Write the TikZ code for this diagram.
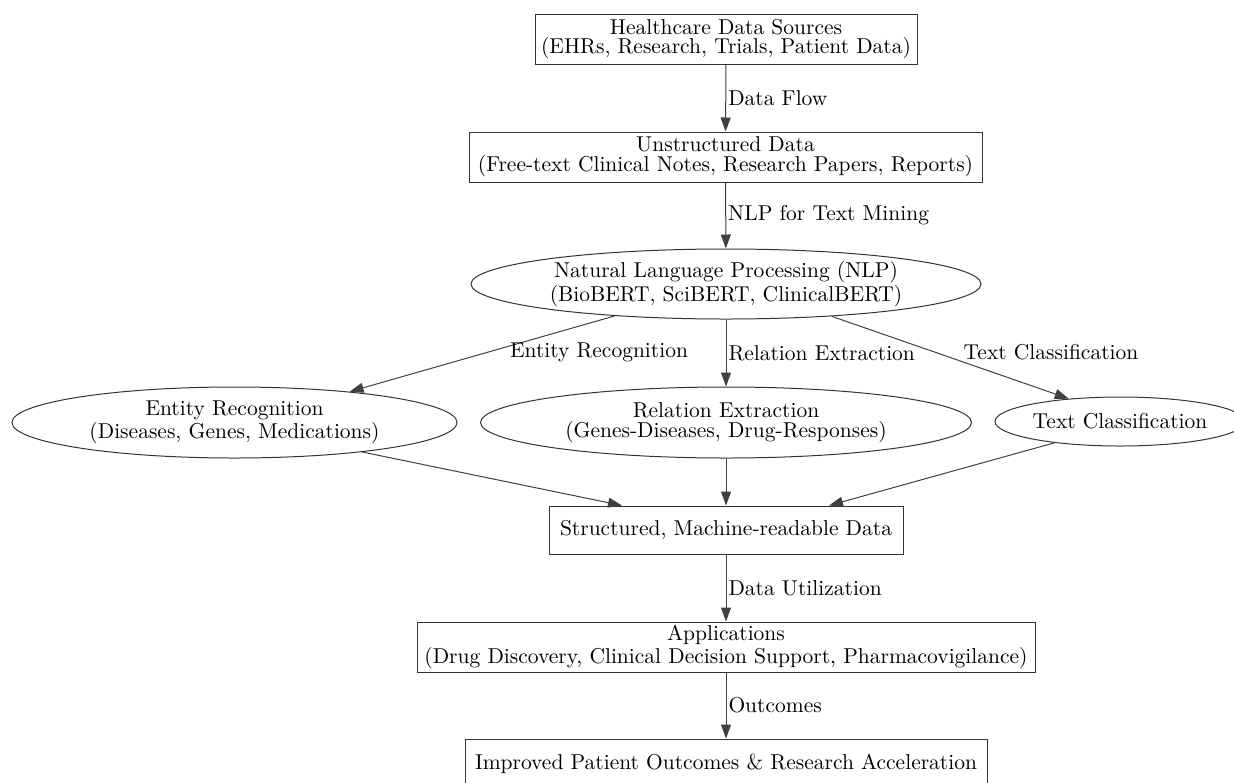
\documentclass[tikz,border=0pt]{standalone}
\usetikzlibrary{arrows.meta,shapes.geometric}
\begin{document}
\begin{tikzpicture}[x=0.5pt,y=-0.5pt,
  every node/.style={font=\fontsize{10.75}{9.8}\selectfont},
  boxnode/.style={draw=black!80,line width=0.5pt,rectangle,inner sep=0pt,align=center},
  ellnode/.style={draw=black!80,line width=0.5pt,ellipse,inner sep=0pt,align=center},
  conn/.style={draw=black!75,line width=0.5pt,-{Triangle[length=7pt,width=5pt]}},
  lbl/.style={inner sep=1pt,anchor=west}]
\useasboundingbox (0,0) rectangle (1234,782);
\node[boxnode,minimum width=191pt,minimum height=25pt] (src) at (726,39) {Healthcare Data Sources\\(EHRs, Research, Trials, Patient Data)};
\node[boxnode,minimum width=256.5pt,minimum height=25pt] (unst) at (725.5,157) {Unstructured Data\\(Free-text Clinical Notes, Research Papers, Reports)};
\node[ellnode,minimum width=255pt,minimum height=35pt] (nlp) at (726,284) {Natural Language Processing (NLP)\\(BioBERT, SciBERT, ClinicalBERT)};
\node[ellnode,minimum width=222.5pt,minimum height=35.5pt] (ent) at (234.5,422.5) {Entity Recognition\\(Diseases, Genes, Medications)};
\node[ellnode,minimum width=245.5pt,minimum height=35.5pt] (rel) at (726,422.5) {Relation Extraction\\(Genes-Diseases, Drug-Responses)};
\node[ellnode,minimum width=125pt,minimum height=24.5pt] (tc) at (1120,421.5) {Text Classification};
\node[boxnode,minimum width=177pt,minimum height=24pt] (str) at (726,530) {Structured, Machine-readable Data};
\node[boxnode,minimum width=309pt,minimum height=25pt] (app) at (726,647) {Applications\\(Drug Discovery, Clinical Decision Support, Pharmacovigilance)};
\node[boxnode,minimum width=261pt,minimum height=25pt] (imp) at (726,764) {Improved Patient Outcomes \& Research Acceleration};

\draw[conn] (src) -- node[lbl,midway] {Data Flow} (unst);
\draw[conn] (unst) -- node[lbl,midway] {NLP for Text Mining} (nlp);
\draw[conn] (nlp.196) -- (ent.15);
\draw[conn] (nlp) -- node[lbl,midway] {Relation Extraction} (rel);
\draw[conn] (nlp.343) -- (tc.156);
\draw[conn] (ent.-13) -- ([xshift=-52pt]str.north);
\draw[conn] (rel) -- (str);
\draw[conn] (tc.198) -- ([xshift=51.5pt]str.north);
\draw[conn] (str) -- node[lbl,midway] {Data Utilization} (app);
\draw[conn] (app) -- node[lbl,midway] {Outcomes} (imp);
\node[inner sep=1pt] (lent) at (599,352) {Entity Recognition};
\node[inner sep=1pt] (ltc) at (1051,352) {Text Classification};
\end{tikzpicture}
\end{document}
